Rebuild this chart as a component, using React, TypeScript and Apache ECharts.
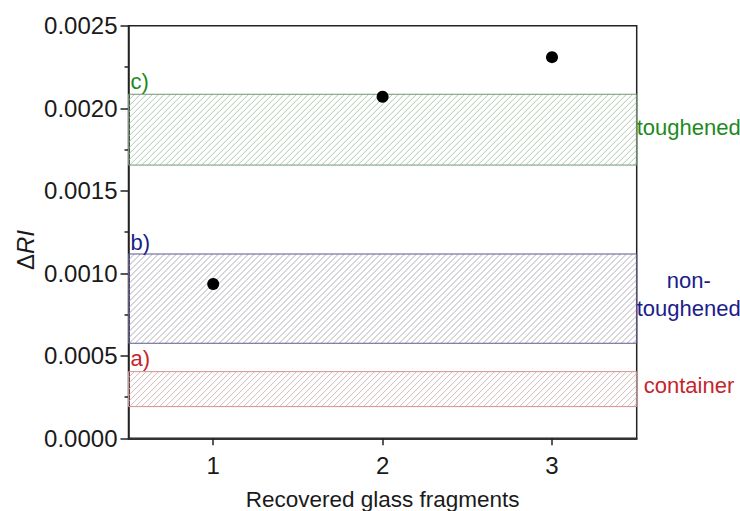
import React, { useEffect, useRef } from "react";
import * as echarts from "echarts";

const categories = ["1", "2", "3"];
const deltaRI = [0.000935, 0.00207, 0.00231];

const bandTags = ["a)", "b)", "c)"];
const bandNames = ["container", "non-\ntoughened", "toughened"];
const bandLow = [0.000192, 0.000576, 0.001656];
const bandHigh = [0.000404, 0.001117, 0.002085];

const bandText = ["#c4262b", "#1c1c8c", "#1e8a1e"];
const bandBorder = ["#d59090", "#5a5a90", "#739873"];
const bandHatch = ["#cca8a8", "#9898a6", "#9cb89c"];

const FONT = "Liberation Sans, Arial, sans-serif";
const HATCH_STEP = 6;

function renderBand(params: any, api: any) {
  const lo = api.value(1);
  const hi = api.value(2);
  const idx = api.value(3);
  const cs = params.coordSys;
  const x0 = cs.x;
  const x1 = cs.x + cs.width;
  const yB = api.coord([0, lo])[1];
  const yT = api.coord([0, hi])[1];
  const H = yB - yT;
  const children: any[] = [];
  for (let c = x0 - H; c < x1; c += HATCH_STEP) {
    const tmin = Math.max(0, x0 - c);
    const tmax = Math.min(H, x1 - c);
    if (tmax - tmin < 0.5) continue;
    children.push({
      type: "line",
      shape: { x1: c + tmin, y1: yB - tmin, x2: c + tmax, y2: yB - tmax },
      style: { stroke: bandHatch[idx], lineWidth: 0.8 },
      silent: true,
    });
  }
  children.push({
    type: "rect",
    shape: { x: x0, y: yT, width: x1 - x0, height: H },
    style: { fill: "none", stroke: bandBorder[idx], lineWidth: 1 },
    silent: true,
  });
  return { type: "group", children };
}

export default function App() {
  const ref = useRef<HTMLDivElement>(null);
  useEffect(() => {
    if (!ref.current) return;
    const chart = echarts.init(ref.current, undefined, { renderer: "svg" });
    const bandData = bandLow.map((lo, i) => [0, lo, bandHigh[i], i]);
    const bandsLeft = bandLow.map((lo, i) => [
      {
        yAxis: lo,
        itemStyle: { color: "rgba(0,0,0,0)", borderWidth: 0 },
        label: {
          show: true,
          formatter: bandTags[i],
          position: [2, i === 1 ? -11 : -13],
          verticalAlign: "middle",
          align: "left",
          color: bandText[i],
          fontSize: 22,
          fontFamily: FONT,
        },
      },
      { yAxis: bandHigh[i] },
    ]);
    const bandsRight = bandLow.map((lo, i) => [
      {
        yAxis: lo,
        itemStyle: { color: "rgba(0,0,0,0)", borderWidth: 0 },
        label: {
          show: true,
          formatter: bandNames[i],
          position: "right",
          distance: i === 0 ? 7 : i === 1 ? 52 : 0,
          offset: [0, i === 2 ? -2 : -4],
          align: i === 1 ? "center" : "left",
          color: bandText[i],
          fontSize: 22,
          lineHeight: 28,
          fontFamily: FONT,
        },
      },
      { yAxis: bandHigh[i] },
    ]);
    chart.setOption({
      animation: false,
      backgroundColor: "#ffffff",
      grid: {
        left: 128.5,
        right: 103.3,
        top: 25.8,
        bottom: 72.7,
        show: true,
        borderColor: "#222",
        borderWidth: 1.5,
        backgroundColor: "transparent",
        outerBoundsMode: "none",
        containLabel: false,
      },
      xAxis: {
        type: "category",
        data: categories,
        boundaryGap: true,
        axisLine: { show: true, lineStyle: { color: "#333", width: 2 } },
        axisTick: { show: true, alignWithLabel: true, inside: false, length: 7, lineStyle: { color: "#222", width: 1.5 } },
        axisLabel: { fontSize: 24, color: "#1a1a1a", fontFamily: FONT, margin: 15 },
        splitLine: { show: false },
        name: "Recovered glass fragments",
        nameLocation: "middle",
        nameGap: 50,
        nameTextStyle: { fontSize: 22.5, color: "#1a1a1a", fontFamily: FONT },
      },
      yAxis: {
        type: "value",
        min: 0,
        max: 0.0025,
        interval: 0.0005,
        axisLine: { show: true, lineStyle: { color: "#222", width: 1.5 } },
        axisTick: { show: true, inside: false, length: 8, lineStyle: { color: "#222", width: 1.5 } },
        minorTick: { show: true, splitNumber: 2, length: 4, lineStyle: { color: "#222", width: 1.5 } },
        axisLabel: {
          fontSize: 24,
          color: "#1a1a1a",
          fontFamily: FONT,
          margin: 11,
          formatter: (v: number) => v.toFixed(4),
        },
        splitLine: { show: false },
        minorSplitLine: { show: false },
      },
      graphic: [
        {
          type: "text",
          x: 25,
          y: 250,
          rotation: Math.PI / 2,
          style: {
            text: "{d|Δ}{r|RI}",
            x: 0,
            y: 0,
            align: "center",
            verticalAlign: "middle",
            rich: {
              d: { fontSize: 24, fontFamily: FONT, fill: "#1a1a1a" },
              r: { fontSize: 24, fontFamily: FONT, fontStyle: "italic", fill: "#1a1a1a" },
            },
          },
        },
      ],
      series: [
        {
          type: "custom",
          data: bandData,
          encode: { x: 0, y: [1, 2] },
          renderItem: renderBand,
          silent: true,
          z: 1,
        },
        {
          type: "scatter",
          data: [],
          z: 2,
          markArea: { silent: true, data: bandsLeft },
        },
        {
          type: "scatter",
          data: [],
          z: 2,
          markArea: { silent: true, data: bandsRight },
        },
        {
          type: "scatter",
          data: deltaRI,
          symbol: "circle",
          symbolSize: 12,
          itemStyle: { color: "#000000", opacity: 1 },
          z: 5,
        },
      ],
    });
    return () => chart.dispose();
  }, []);
  return (
    <div
      ref={ref}
      style={{ position: "fixed", left: 0, top: 0, width: 740, height: 511 }}
    />
  );
}
